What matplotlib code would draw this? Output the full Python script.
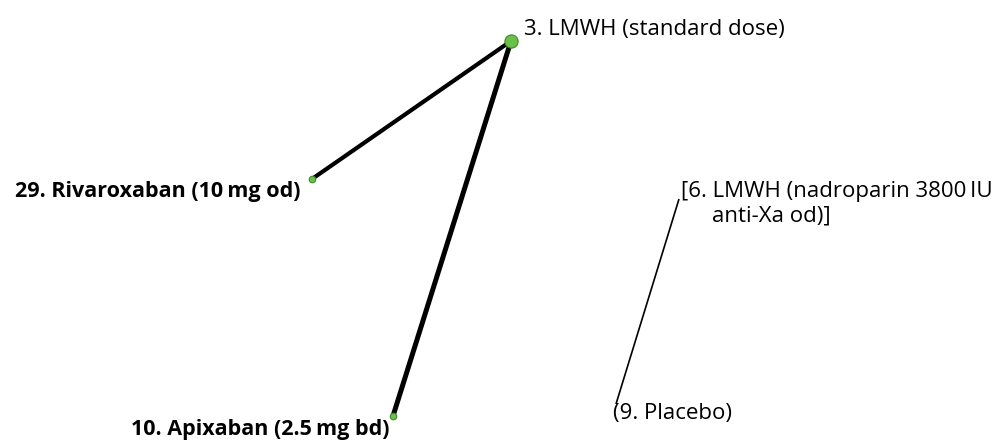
import matplotlib
matplotlib.use('Agg')
import matplotlib.pyplot as plt

plt.rcParams['font.family'] = ['Open Sans', 'DejaVu Sans']

# node layout (pixel-like coordinates of the network drawing)
node_names = ['LMWH_std', 'Rivaroxaban', 'Apixaban', 'Nadroparin', 'Placebo']
node_x = [511, 312, 393, 679, 616]
node_y = [41, 179, 416, 199, 404]
node_size = [90, 22, 22, 0, 0]

# edges: (from, to, weight)
edge_from = [0, 0, 3]
edge_to = [1, 2, 4]
edge_width = [3.0, 3.6, 1.2]

labels = ['3. LMWH (standard dose)',
          '29. Rivaroxaban (10\u2009mg od)',
          '10. Apixaban (2.5\u2009mg bd)',
          '[6. LMWH (nadroparin 3800\u2009IU',
          'anti-Xa od)]',
          '(9. Placebo)']

fig = plt.figure(figsize=(10.02, 4.42), dpi=100)
ax = fig.add_axes([0, 0, 1, 1])
ax.set_xlim(0, 1002)
ax.set_ylim(442, 0)
ax.axis('off')

for a, b, w in zip(edge_from, edge_to, edge_width):
    ax.plot([node_x[a], node_x[b]], [node_y[a], node_y[b]],
            color='black', lw=w, solid_capstyle='butt', zorder=1)

for x, y, s in zip(node_x, node_y, node_size):
    if s > 0:
        ax.scatter(x, y, s=s, color='#6cc04a', edgecolors='#3d8a2a',
                   linewidths=0.8, zorder=2)

fs = 16
ax.text(524, 29, labels[0], fontsize=fs, ha='left', va='center')
ax.text(301, 191, labels[1], fontsize=15.5, ha='right', va='center', fontweight='bold')
ax.text(390, 429, labels[2], fontsize=15.5, ha='right', va='center', fontweight='bold')
ax.text(681, 192, labels[3], fontsize=fs, ha='left', va='center')
ax.text(712, 216, labels[4], fontsize=fs, ha='left', va='center')
ax.text(613, 413, labels[5], fontsize=fs, ha='left', va='center')

fig.savefig('out.png', dpi=100)
